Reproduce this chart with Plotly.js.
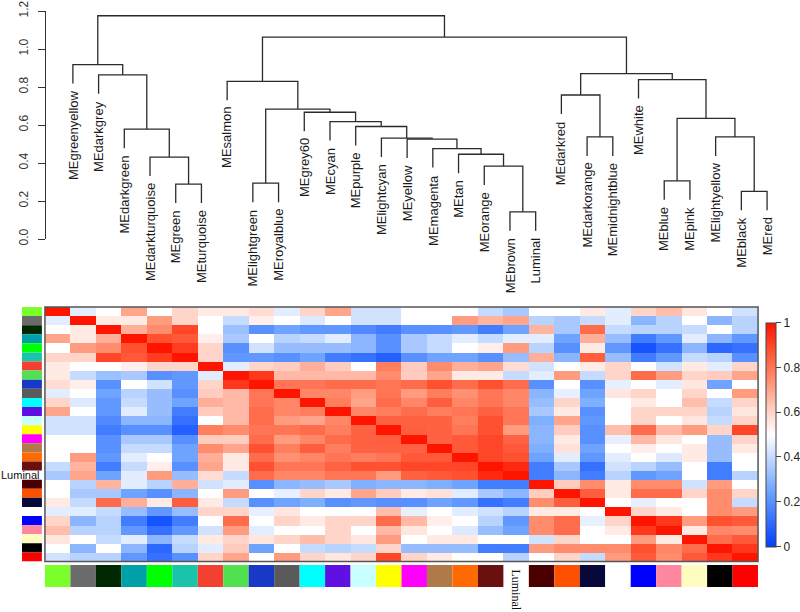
<!DOCTYPE html>
<html><head><meta charset="utf-8">
<script src="https://cdn.plot.ly/plotly-3.0.1.min.js"></script>
<style>html,body{margin:0;padding:0;background:#fff}#chart{width:800px;height:612px}</style>
</head><body><div id="chart"></div>
<script>
// ---- data ----
const modules = ["MEgreenyellow","MEdarkgrey","MEdarkgreen","MEdarkturquoise","MEgreen","MEturquoise","MEsalmon","MElightgreen","MEroyalblue","MEgrey60","MEcyan","MEpurple","MElightcyan","MEyellow","MEmagenta","MEtan","MEorange","MEbrown","Luminal","MEdarkred","MEdarkorange","MEmidnightblue","MEwhite","MEblue","MEpink","MElightyellow","MEblack","MEred"];
const stripColors = ["#7aff2a","#6b6b6b","#002800","#00a0a8","#00ff00","#1ac4a8","#f44030","#50e050","#1838c8","#5a5a5a","#00ffff","#6010e0","#c8ffff","#ffff00","#ff00ff","#b07a48","#ff6a00","#6b1010","rgba(0,0,0,0)","#4a0000","#ff5000","#08083a","#ffffff","#0000ff","#ff88a0","#fffcc0","#000000","#ff0000"];
const specialLabel = "Luminal";

// hierarchical clustering merges (R hclust style: negative = leaf, positive = earlier merge)
const mergeLeft   = [-18,-27,-5,-8,-24,-17,-4,-16,-15,-14,-13,-21,-26,-3,-12,-11,5,-10,4,-20,-7,-23,-2,20,-1,21,25];
const mergeRight  = [-19,-28,-6,-9,-25,1,3,6,8,9,10,-22,2,7,11,15,13,16,18,12,19,17,14,22,23,24,26];
const mergeHeight = [0.143,0.251,0.289,0.294,0.306,0.384,0.431,0.446,0.476,0.526,0.531,0.537,0.537,0.578,0.592,0.618,0.635,0.667,0.684,0.758,0.830,0.839,0.864,0.870,0.918,1.063,1.175];
const hang = 0.1;
const dendroTicks = [0,0.2,0.4,0.6,0.8,1.0,1.2];

// lower triangle of the correlation matrix (row i, columns 1..i-1)
const corrLower = [
 [0.45],
 [0.5,0.55],
 [0.7,0.55,0.68],
 [0.5,0.72,0.75,0.88],
 [0.6,0.6,0.9,0.86,0.92],
 [0.55,0.5,0.5,0.54,0.6,0.6],
 [0.55,0.4,0.33,0.35,0.2,0.22,0.45],
 [0.58,0.54,0.2,0.5,0.42,0.22,0.6,0.93],
 [0.45,0.5,0.25,0.38,0.32,0.2,0.62,0.66,0.8],
 [0.6,0.44,0.22,0.4,0.32,0.25,0.68,0.66,0.8,0.76],
 [0.7,0.5,0.22,0.45,0.32,0.15,0.62,0.66,0.82,0.76,0.78],
 [0.42,0.42,0.18,0.3,0.3,0.12,0.5,0.66,0.82,0.72,0.7,0.76],
 [0.42,0.42,0.15,0.2,0.2,0.08,0.78,0.75,0.8,0.8,0.82,0.78,0.84],
 [0.5,0.5,0.2,0.35,0.35,0.2,0.62,0.62,0.82,0.72,0.76,0.82,0.84,0.85],
 [0.5,0.5,0.2,0.4,0.4,0.25,0.75,0.7,0.88,0.78,0.85,0.78,0.84,0.84,0.84],
 [0.5,0.72,0.22,0.45,0.5,0.25,0.68,0.55,0.82,0.74,0.76,0.8,0.78,0.8,0.86,0.86],
 [0.4,0.67,0.15,0.4,0.54,0.2,0.7,0.55,0.88,0.8,0.8,0.84,0.88,0.88,0.9,0.9,0.9],
 [0.35,0.7,0.25,0.45,0.72,0.32,0.58,0.4,0.82,0.76,0.76,0.8,0.8,0.72,0.84,0.86,0.88,0.96],
 [0.5,0.38,0.67,0.45,0.38,0.68,0.42,0.45,0.2,0.3,0.32,0.35,0.28,0.3,0.3,0.28,0.25,0.15,0.15],
 [0.5,0.35,0.35,0.25,0.2,0.3,0.5,0.72,0.5,0.46,0.6,0.55,0.7,0.62,0.55,0.57,0.45,0.35,0.3,0.62],
 [0.55,0.4,0.82,0.68,0.55,0.85,0.55,0.4,0.2,0.25,0.28,0.2,0.22,0.2,0.2,0.25,0.22,0.12,0.15,0.75,0.85],
 [0.45,0.45,0.4,0.32,0.22,0.32,0.6,0.6,0.46,0.56,0.5,0.5,0.5,0.65,0.46,0.5,0.45,0.42,0.38,0.55,0.55,0.5],
 [0.6,0.3,0.38,0.15,0.05,0.15,0.5,0.82,0.5,0.6,0.55,0.6,0.6,0.82,0.66,0.54,0.5,0.38,0.22,0.75,0.82,0.46,0.6],
 [0.65,0.38,0.38,0.22,0.12,0.22,0.42,0.72,0.45,0.5,0.5,0.6,0.5,0.66,0.56,0.5,0.44,0.32,0.25,0.75,0.82,0.5,0.55,0.93],
 [0.56,0.5,0.4,0.45,0.3,0.4,0.55,0.6,0.56,0.6,0.65,0.6,0.56,0.72,0.5,0.55,0.55,0.5,0.5,0.42,0.6,0.5,0.5,0.72,0.55],
 [0.5,0.3,0.5,0.3,0.1,0.38,0.45,0.62,0.25,0.5,0.4,0.38,0.4,0.6,0.32,0.32,0.32,0.15,0.15,0.72,0.75,0.75,0.75,0.88,0.76,0.82],
 [0.42,0.38,0.38,0.22,0.12,0.2,0.6,0.7,0.5,0.72,0.6,0.56,0.6,0.9,0.6,0.55,0.5,0.5,0.38,0.5,0.6,0.4,0.72,0.86,0.75,0.86,0.93]
];
const colorbarTicks = [0,0.2,0.4,0.6,0.8,1];

// ---- build ----
const n = modules.length;
const pos = modules.map((_, i) => i + 1);
const nodeX = [], nodeH = [], leafTop = new Array(n);
const lx = [], ly = [];
function childInfo(c, h) {
  if (c < 0) { const i = -c - 1; leafTop[i] = h - hang; return {x: pos[i], y: h - hang}; }
  return {x: nodeX[c - 1], y: nodeH[c - 1]};
}
mergeHeight.forEach((h, k) => {
  const a = childInfo(mergeLeft[k], h), b = childInfo(mergeRight[k], h);
  nodeX[k] = (a.x + b.x) / 2; nodeH[k] = h;
  lx.push(a.x, a.x, b.x, b.x, null); ly.push(a.y, h, h, b.y, null);
});

const z = [];
for (let i = 0; i < n; i++) {
  const row = [];
  for (let j = 0; j < n; j++) {
    if (i === j) row.push(1);
    else if (j < i) row.push(corrLower[i - 1][j]);
    else row.push(corrLower[j - 1][i]);
  }
  z.push(row);
}

const W = 800, H = 612;
const px = v => v / W, py = v => 1 - v / H;

const traces = [
  {type: 'scatter', mode: 'lines', x: lx, y: ly, xaxis: 'x', yaxis: 'y',
   line: {color: '#2b2b2b', width: 1.3}, hoverinfo: 'skip', showlegend: false},
  {type: 'heatmap', x: pos, y: pos, z: z, xaxis: 'x2', yaxis: 'y2', zmin: 0, zmax: 1,
   colorscale: [[0, '#0040ff'], [0.25, '#6ea4ff'], [0.5, '#ffffff'], [0.625, '#ffcabc'], [0.75, '#ff8c6c'], [0.875, '#ff5232'], [1, '#ff1400']],
   colorbar: {x: px(765.5), xanchor: 'left', xpad: 0, ypad: 0, thickness: 9.5, thicknessmode: 'pixels',
     len: (546.7 - 322.3) / H, lenmode: 'fraction', y: py(434.5), yanchor: 'middle',
     outlinewidth: 1, outlinecolor: '#444', ticks: 'outside', ticklen: 5, tickcolor: '#444',
     tickvals: colorbarTicks, ticktext: colorbarTicks.map(String),
     tickfont: {size: 12, color: '#222'}},
   hoverinfo: 'skip'},
  {type: 'bar', orientation: 'h', y: pos, x: pos.map(() => 1), width: 1, xaxis: 'x3', yaxis: 'y2',
   marker: {color: stripColors, line: {width: 0}}, hoverinfo: 'skip', showlegend: false},
  {type: 'bar', x: pos, y: pos.map(() => 1), width: 1, xaxis: 'x2', yaxis: 'y3',
   marker: {color: stripColors, line: {width: 0}}, hoverinfo: 'skip', showlegend: false}
];

const annotations = modules.map((m, i) => ({
  x: pos[i], y: leafTop[i], xref: 'x', yref: 'y', text: m, textangle: -90,
  xanchor: 'center', yanchor: 'top', yshift: -5, showarrow: false,
  font: {size: 13, color: '#1a1a1a', family: 'Liberation Sans, Arial, sans-serif'}
}));
const specialIdx = modules.indexOf(specialLabel);
annotations.push({x: px(42), xref: 'paper', y: pos[specialIdx], yref: 'y2', text: specialLabel,
  xanchor: 'right', yanchor: 'middle', showarrow: false, font: {size: 11, color: '#111'}});
annotations.push({x: pos[specialIdx], xref: 'x2', y: py(567), yref: 'paper', text: specialLabel,
  textangle: 90, xanchor: 'center', yanchor: 'top', showarrow: false,
  font: {size: 12, color: '#111', family: 'Liberation Serif, Times New Roman, serif'}});

const hidden = {showgrid: false, zeroline: false, showticklabels: false, ticks: '', showline: false};
const layout = {
  width: W, height: H, margin: {l: 0, r: 0, t: 0, b: 0},
  paper_bgcolor: '#fff', plot_bgcolor: 'rgba(0,0,0,0)', showlegend: false,
  font: {family: 'Liberation Sans, Arial, sans-serif', color: '#222'},
  xaxis: Object.assign({}, hidden, {domain: [px(60.1), px(780.9)], range: [0.5, 28.5], anchor: 'y', visible: false}),
  yaxis: {domain: [py(239), py(11)], range: [-0.00001, 1.20001], anchor: 'free', position: px(45),
    showline: true, linecolor: '#333', linewidth: 1, ticks: 'outside', ticklen: 7, tickcolor: '#333',
    tickvals: dendroTicks, ticktext: dendroTicks.map(v => v.toFixed(1)), tickangle: -90,
    ticklabeloverflow: 'allow',
    tickfont: {size: 12, color: '#333'}, showgrid: false, zeroline: false, ticklabelstandoff: 5},
  xaxis2: Object.assign({}, hidden, {domain: [px(45), px(759)], range: [0.5, 28.5], anchor: 'y2'}),
  yaxis2: Object.assign({}, hidden, {domain: [py(561.5), py(307)], range: [28.5, 0.5], anchor: 'x2'}),
  xaxis3: Object.assign({}, hidden, {domain: [px(22), px(42)], range: [0, 1], anchor: 'y2', visible: false}),
  yaxis3: Object.assign({}, hidden, {domain: [py(587), py(565)], range: [0, 1], anchor: 'x2', visible: false}),
  shapes: [{type: 'rect', xref: 'x2 domain', yref: 'y2 domain', x0: 0, x1: 1, y0: 0, y1: 1,
    line: {color: '#555', width: 1.5}, layer: 'above'}],
  annotations: annotations
};
Plotly.newPlot('chart', traces, layout, {staticPlot: true, displayModeBar: false});
</script>
</body></html>
